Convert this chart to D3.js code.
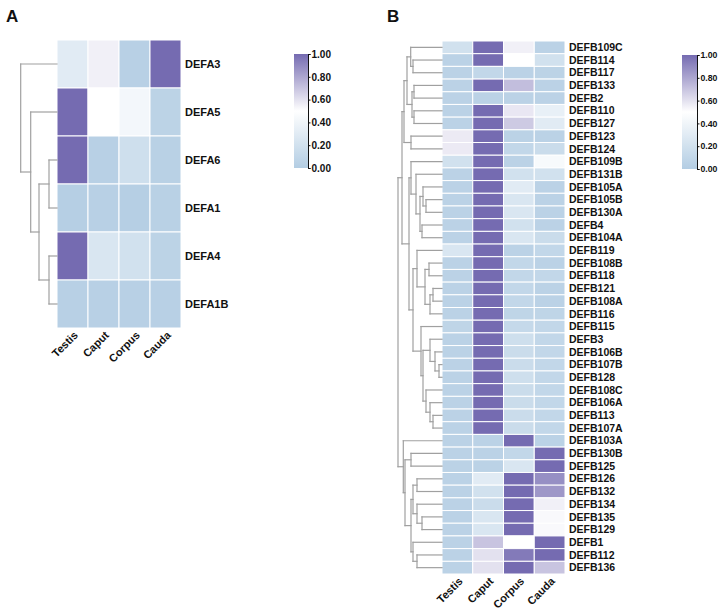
<!DOCTYPE html>
<html><head><meta charset="utf-8">
<script src="https://cdn.jsdelivr.net/npm/d3@7"></script>
<style>body{margin:0;background:#fff}svg{display:block}text{font-family:"Liberation Sans",Arial,sans-serif;font-weight:bold;fill:#111}</style>
</head><body><svg id="c" width="720" height="612"></svg>
<script>
const tissues = ["Testis","Caput","Corpus","Cauda"];
const legendTicks = [0,0.2,0.4,0.6,0.8,1.0];

const genesA = ["DEFA3","DEFA5","DEFA6","DEFA1","DEFA4","DEFA1B"];
const valuesA = [
 [0.30,0.55,0.03,1.00],
 [1.00,0.50,0.42,0.06],
 [1.00,0.03,0.18,0.04],
 [0.02,0.03,0.02,0.04],
 [1.00,0.25,0.20,0.06],
 [0.03,0.03,0.03,0.03]
];
const treeA = {h:36.3,c:["DEFA3",{h:26.3,c:["DEFA5",{h:18,c:[{h:8,c:["DEFA6","DEFA1"]},{h:8,c:["DEFA4","DEFA1B"]}]}]}]};

const genesB = ["DEFB109C","DEFB114","DEFB117","DEFB133","DEFB2","DEFB110","DEFB127","DEFB123","DEFB124","DEFB109B","DEFB131B","DEFB105A","DEFB105B","DEFB130A","DEFB4","DEFB104A","DEFB119","DEFB108B","DEFB118","DEFB121","DEFB108A","DEFB116","DEFB115","DEFB3","DEFB106B","DEFB107B","DEFB128","DEFB108C","DEFB106A","DEFB113","DEFB107A","DEFB103A","DEFB130B","DEFB125","DEFB126","DEFB132","DEFB134","DEFB135","DEFB129","DEFB1","DEFB112","DEFB136"];
const valuesB = [
 [0.20,1.00,0.55,0.05],
 [0.05,1.00,0.50,0.20],
 [0.05,0.10,0.05,0.06],
 [0.05,1.00,0.72,0.05],
 [0.05,0.05,0.05,0.05],
 [0.05,1.00,0.58,0.35],
 [0.05,1.00,0.68,0.30],
 [0.57,1.00,0.05,0.05],
 [0.57,1.00,0.10,0.15],
 [0.20,1.00,0.05,0.45],
 [0.05,1.00,0.20,0.20],
 [0.05,1.00,0.30,0.05],
 [0.05,1.00,0.25,0.05],
 [0.05,1.00,0.25,0.05],
 [0.05,1.00,0.20,0.05],
 [0.05,1.00,0.25,0.15],
 [0.25,1.00,0.05,0.10],
 [0.05,1.00,0.10,0.05],
 [0.05,1.00,0.10,0.10],
 [0.05,1.00,0.10,0.05],
 [0.05,1.00,0.10,0.05],
 [0.05,1.00,0.08,0.08],
 [0.08,1.00,0.12,0.10],
 [0.05,1.00,0.18,0.10],
 [0.05,1.00,0.15,0.10],
 [0.05,1.00,0.15,0.10],
 [0.05,1.00,0.18,0.10],
 [0.05,1.00,0.15,0.10],
 [0.05,1.00,0.15,0.10],
 [0.05,1.00,0.15,0.10],
 [0.05,1.00,0.15,0.10],
 [0.05,0.05,1.00,0.05],
 [0.05,0.05,0.10,1.00],
 [0.05,0.05,0.25,1.00],
 [0.05,0.30,1.00,0.88],
 [0.05,0.20,1.00,0.85],
 [0.05,0.15,1.00,0.55],
 [0.05,0.25,1.00,0.52],
 [0.05,0.25,1.00,0.52],
 [0.05,0.70,0.50,1.00],
 [0.05,0.60,0.95,1.00],
 [0.05,0.60,1.00,0.70]
];
const treeB = {h:44,c:[
 {h:40,c:[
   {h:38,c:[
     {h:35,c:[
       {h:31.3,c:["DEFB109C",{h:29,c:["DEFB114","DEFB117"]}]},
       {h:30,c:[{h:28,c:["DEFB133","DEFB2"]},{h:28,c:["DEFB110","DEFB127"]}]}
     ]},
     {h:31,c:["DEFB123","DEFB124"]}
   ]},
   {h:33,c:[
     {h:31,c:["DEFB109B",{h:26,c:["DEFB131B",{h:22,c:[
        {h:19,c:["DEFB105A",{h:16,c:["DEFB105B","DEFB130A"]}]},
        {h:20,c:["DEFB4","DEFB104A"]}]}]}]},
     {h:29,c:[
       {h:25,c:["DEFB119",{h:17,c:[{h:13,c:["DEFB108B","DEFB118"]},{h:12,c:[{h:9,c:["DEFB121","DEFB108A"]},"DEFB116"]}]}]},
       {h:21,c:["DEFB115",{h:19,c:[
          {h:12,c:["DEFB3",{h:7,c:["DEFB106B",{h:3,c:["DEFB107B","DEFB128"]}]}]},
          {h:16,c:["DEFB108C",{h:12,c:["DEFB106A",{h:9,c:["DEFB113","DEFB107A"]}]}]}]}]}
     ]}
   ]}
 ]},
 {h:38.7,c:["DEFB103A",{h:37,c:[
   {h:31,c:["DEFB130B","DEFB125"]},
   {h:31,c:[
     {h:29,c:[{h:25,c:["DEFB126","DEFB132"]},{h:25,c:["DEFB134",{h:20,c:["DEFB135","DEFB129"]}]}]},
     {h:29,c:["DEFB1",{h:25,c:["DEFB112","DEFB136"]}]}
   ]}
 ]}]}
]};

const svg = d3.select("#c");
const color = d3.scaleLinear().domain([0,0.5,1]).range(["#b3cde3","#ffffff","#756bb1"]).interpolate(d3.interpolateRgb).clamp(true);

function panel(cfg){
  const g = svg.append("g");
  const x = d3.scaleBand().domain(tissues).range([cfg.x0,cfg.x1]);
  const y = d3.scaleBand().domain(cfg.genes).range([cfg.y0,cfg.y1]);
  const cells = [];
  cfg.genes.forEach((gn,i)=>tissues.forEach((t,j)=>cells.push({g:gn,t:t,v:cfg.values[i][j]})));
  g.selectAll("rect.cell").data(cells).join("rect").attr("class","cell")
    .attr("x",d=>x(d.t)).attr("y",d=>y(d.g)).attr("width",x.bandwidth()).attr("height",y.bandwidth())
    .attr("fill",d=>color(d.v)).attr("stroke","#fff").attr("stroke-width",1);
  g.selectAll("text.row").data(cfg.genes).join("text").attr("class","row")
    .attr("x",cfg.x1+4).attr("y",d=>y(d)+y.bandwidth()/2).attr("dy","0.35em")
    .attr("font-size",cfg.fs).text(d=>d);
  g.selectAll("text.col").data(tissues).join("text").attr("class","col")
    .attr("text-anchor","end").attr("font-size",11)
    .attr("transform",d=>`translate(${x(d)+x.bandwidth()/2+6},${cfg.y1+8}) rotate(-45)`)
    .text(d=>d);
  // dendrogram
  const hs = d3.scaleLinear().domain([0,cfg.tree.h]).range([cfg.x0,cfg.dx]);
  const segs = [];
  function lay(n){
    if(typeof n==="string") return {x:cfg.x0, y:y(n)+y.bandwidth()/2};
    const ch = n.c.map(lay);
    const nx = hs(n.h);
    const ys = ch.map(c=>c.y);
    segs.push([nx,d3.min(ys),nx,d3.max(ys)]);
    ch.forEach(c=>segs.push([nx,c.y,c.x,c.y]));
    return {x:nx,y:d3.mean(ys)};
  }
  lay(cfg.tree);
  g.selectAll("line.dg").data(segs).join("line").attr("class","dg")
    .attr("x1",d=>d[0]).attr("y1",d=>d[1]).attr("x2",d=>d[2]).attr("y2",d=>d[3])
    .attr("stroke","#a0a0a0").attr("stroke-width",1.2).attr("stroke-linecap","square");
  // legend
  const id = "grad"+cfg.label;
  const grad = svg.append("defs").append("linearGradient").attr("id",id)
    .attr("x1","0").attr("y1","1").attr("x2","0").attr("y2","0");
  d3.range(0,1.0001,0.1).forEach(t=>grad.append("stop").attr("offset",t).attr("stop-color",color(t)));
  g.append("rect").attr("x",cfg.lx).attr("y",cfg.ly0).attr("width",cfg.lw).attr("height",cfg.ly1-cfg.ly0).attr("fill",`url(#${id})`);
  const ls = d3.scaleLinear().domain([0,1]).range([cfg.ly1,cfg.ly0]);
  const ax = g.append("g").attr("transform",`translate(${cfg.lx+cfg.lw},0)`)
    .call(d3.axisRight(ls).tickValues(legendTicks).tickFormat(d3.format(".2f")).tickSize(2.5));
  ax.selectAll("path,line").attr("stroke","#111");
  ax.selectAll("text").attr("font-size",cfg.lfs).attr("font-family","Liberation Sans, Arial").attr("font-weight","bold").attr("fill","#111").attr("x",cfg.ltx);
  svg.append("text").attr("x",cfg.px).attr("y",22).attr("font-size",17).text(cfg.label);
}

panel({label:"A",px:6,genes:genesA,values:valuesA,tree:treeA,x0:57,x1:181,y0:40,y1:328,dx:20.7,fs:11,lx:294,lw:14,ly0:54,ly1:168,lfs:10,ltx:3.5});
panel({label:"B",px:387,genes:genesB,values:valuesB,tree:treeB,x0:442,x1:565,y0:41,y1:574,dx:398,fs:10.5,lx:682,lw:15,ly0:55,ly1:169,lfs:8.7,ltx:3.5});
</script></body></html>
